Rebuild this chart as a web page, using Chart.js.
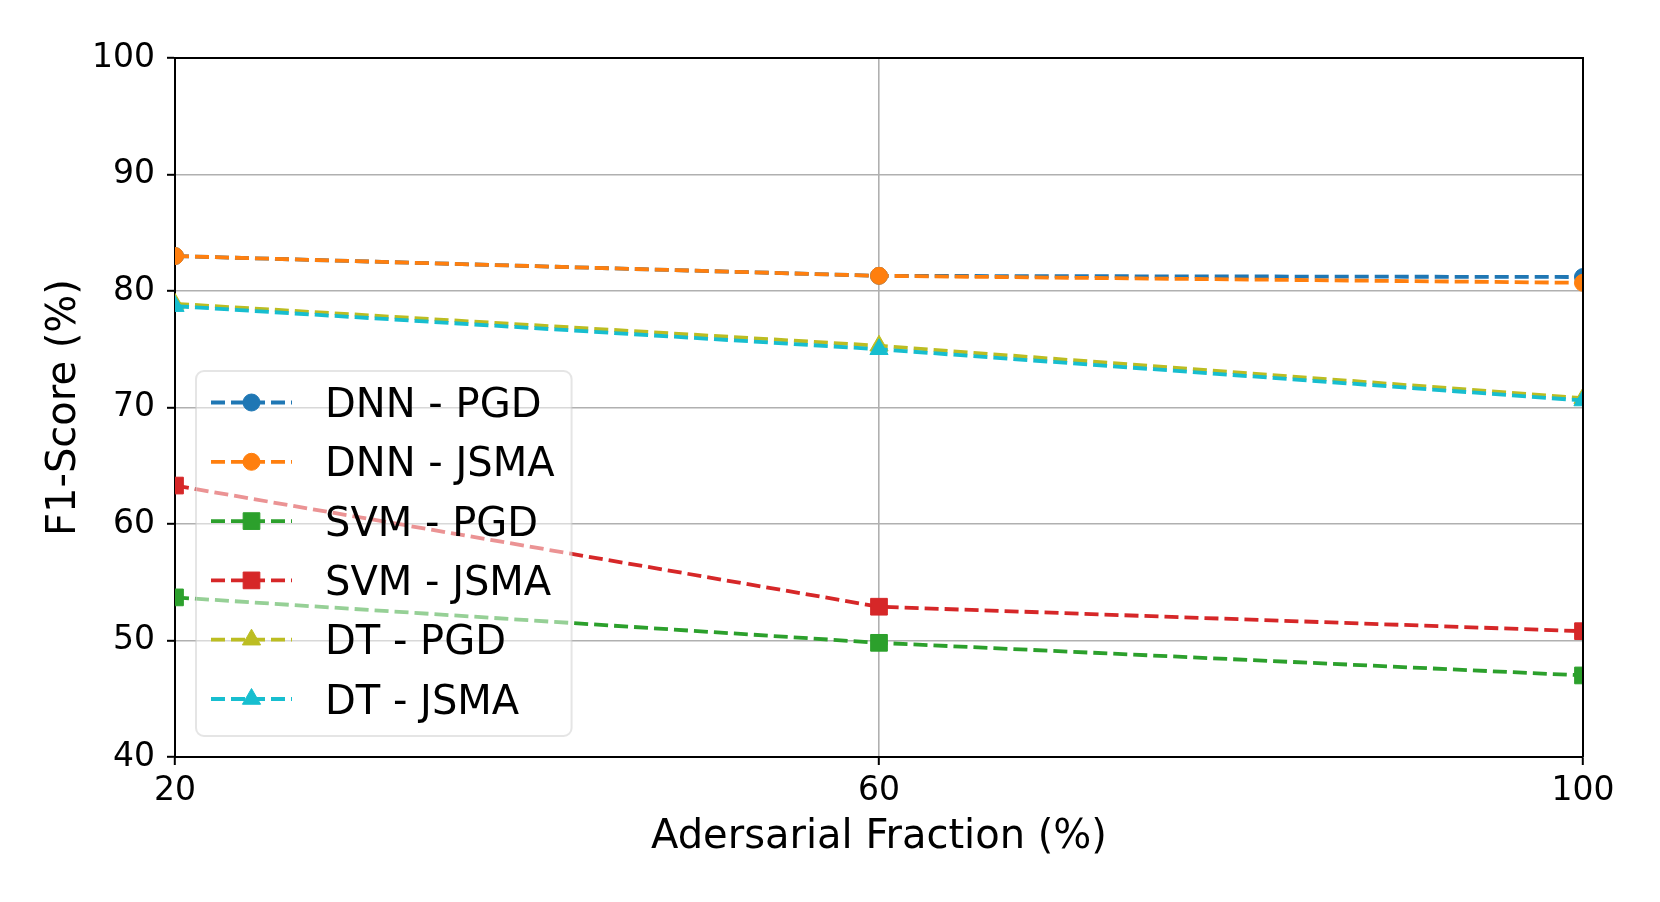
<!DOCTYPE html>
<html>
<head>
<meta charset="utf-8">
<script src="https://cdn.jsdelivr.net/npm/chart.js@4/dist/chart.umd.min.js"></script>
<style>
  html, body { margin: 0; padding: 0; background: #ffffff; }
  #c { display: block; }
</style>
</head>
<body>
<canvas id="c" width="1660" height="902"></canvas>
<script>
// ---- data ----
const fractions = [20, 60, 100];
const xTicks = [20, 60, 100];
const yTicks = [40, 50, 60, 70, 80, 90, 100];
const seriesNames = ['DNN - PGD', 'DNN - JSMA', 'SVM - PGD', 'SVM - JSMA', 'DT - PGD', 'DT - JSMA'];
const dnnPgd  = [83.0, 81.3, 81.2];
const dnnJsma = [83.0, 81.3, 80.7];
const svmPgd  = [53.7, 49.8, 47.0];
const svmJsma = [63.3, 52.9, 50.8];
const dtPgd   = [78.9, 75.3, 70.8];
const dtJsma  = [78.7, 75.0, 70.6];
const xTitle = 'Adersarial Fraction (%)';
const yTitle = 'F1-Score (%)';

// ---- styles ----
const colors = ['#1f77b4', '#ff7f0e', '#2ca02c', '#d62728', '#bcbd22', '#17becf'];
const markers = ['circle', 'circle', 'rect', 'rect', 'triangle', 'triangle'];
const markerRadius = { circle: 8.5, rect: 11.8, triangle: 10.5 };
const seriesValues = [dnnPgd, dnnJsma, svmPgd, svmJsma, dtPgd, dtJsma];
const LW = 3.8;
const DASH = [14, 6];

Chart.defaults.font.family = "'DejaVu Sans', sans-serif";
Chart.defaults.color = '#000000';

const datasets = seriesNames.map((name, i) => ({
  label: name,
  data: fractions.map((x, j) => ({ x: x, y: seriesValues[i][j] })),
  borderColor: colors[i],
  backgroundColor: colors[i],
  pointBackgroundColor: colors[i],
  pointBorderColor: colors[i],
  pointBorderWidth: 1,
  pointStyle: markers[i],
  pointRadius: markerRadius[markers[i]],
  pointHoverRadius: markerRadius[markers[i]],
  borderWidth: LW,
  borderDash: DASH,
  borderCapStyle: 'butt',
  tension: 0,
  fill: false,
  clip: 0,
  order: seriesNames.length - i
}));

function drawMarker(ctx, style, x, y, r, color) {
  ctx.save();
  ctx.fillStyle = color;
  ctx.strokeStyle = color;
  ctx.lineWidth = 1;
  ctx.setLineDash([]);
  ctx.beginPath();
  if (style === 'circle') {
    ctx.arc(x, y, r, 0, Math.PI * 2);
  } else if (style === 'rect') {
    const s = Math.SQRT1_2 * r;
    ctx.rect(x - s, y - s, 2 * s, 2 * s);
  } else {
    let a = 0;
    ctx.moveTo(x + Math.sin(a) * r, y - Math.cos(a) * r);
    a += 2 * Math.PI / 3;
    ctx.lineTo(x + Math.sin(a) * r, y - Math.cos(a) * r);
    a += 2 * Math.PI / 3;
    ctx.lineTo(x + Math.sin(a) * r, y - Math.cos(a) * r);
    ctx.closePath();
  }
  ctx.fill();
  ctx.stroke();
  ctx.restore();
}

const mplLegend = {
  id: 'mplLegend',
  afterDatasetsDraw(chart) {
    const ctx = chart.ctx;
    const area = chart.chartArea;
    const fontSize = 40;
    const rowH = 59.3;
    const ds = chart.data.datasets;
    ctx.save();
    ctx.font = fontSize + "px 'DejaVu Sans'";
    let maxW = 0;
    ds.forEach(d => { maxW = Math.max(maxW, ctx.measureText(d.label).width); });
    const boxLeft = area.left + 21;
    const boxBottom = area.bottom - 21;
    const handleX0 = boxLeft + 15;
    const handleX1 = handleX0 + 81;
    const textX = handleX1 + 33;
    const boxRight = textX + maxW + 17;
    const boxHeight = 365;
    const boxTop = boxBottom - boxHeight;
    const firstRow = boxTop + 31.5;
    // frame
    ctx.globalAlpha = 0.5;
    ctx.fillStyle = '#ffffff';
    ctx.strokeStyle = '#cccccc';
    ctx.lineWidth = 2;
    ctx.beginPath();
    ctx.roundRect(boxLeft, boxTop, boxRight - boxLeft, boxHeight, 8);
    ctx.fill();
    ctx.stroke();
    ctx.globalAlpha = 1;
    ds.forEach((d, i) => {
      const cy = firstRow + i * rowH;
      ctx.save();
      ctx.strokeStyle = d.borderColor;
      ctx.lineWidth = d.borderWidth;
      ctx.setLineDash(d.borderDash);
      ctx.lineCap = 'butt';
      ctx.beginPath();
      ctx.moveTo(handleX0, cy);
      ctx.lineTo(handleX1, cy);
      ctx.stroke();
      ctx.restore();
      drawMarker(ctx, d.pointStyle, (handleX0 + handleX1) / 2, cy, d.pointRadius, d.borderColor);
      ctx.fillStyle = '#000000';
      ctx.textAlign = 'left';
      ctx.textBaseline = 'alphabetic';
      ctx.fillText(d.label, textX, cy + 0.365 * fontSize);
    });
    ctx.restore();
  }
};

const frame = {
  id: 'frame',
  afterDraw(chart) {
    const ctx = chart.ctx;
    const a = chart.chartArea;
    ctx.save();
    ctx.strokeStyle = '#000000';
    ctx.lineWidth = 2;
    ctx.beginPath();
    ctx.moveTo(a.left, a.top);
    ctx.lineTo(a.right, a.top);
    ctx.lineTo(a.right, a.bottom);
    ctx.stroke();
    ctx.restore();
  }
};

new Chart(document.getElementById('c'), {
  type: 'line',
  data: { datasets: datasets },
  plugins: [mplLegend, frame],
  options: {
    responsive: false,
    animation: false,
    devicePixelRatio: 1,
    layout: { padding: { top: 58, right: 77, left: 0, bottom: 0 } },
    plugins: {
      legend: { display: false },
      tooltip: { enabled: false }
    },
    scales: {
      x: {
        type: 'linear',
        min: xTicks[0],
        max: xTicks[xTicks.length - 1],
        afterBuildTicks(scale) { scale.ticks = xTicks.map(v => ({ value: v })); },
        afterFit(scale) { scale.height = 145; },
        ticks: { font: { size: 33 }, color: '#000000', padding: 7, maxRotation: 0, autoSkip: false },
        grid: { color: '#b0b0b0', lineWidth: 1.6, tickLength: 8, tickColor: '#000000', tickWidth: 2, drawTicks: true },
        border: { display: true, color: '#000000', width: 2 },
        title: { display: true, text: xTitle, font: { size: 40 }, color: '#000000', padding: { top: 0, bottom: 40 } }
      },
      y: {
        type: 'linear',
        min: yTicks[0],
        max: yTicks[yTicks.length - 1],
        afterBuildTicks(scale) { scale.ticks = yTicks.map(v => ({ value: v })); },
        afterFit(scale) { scale.width = 175; },
        ticks: { font: { size: 33 }, color: '#000000', padding: 12 },
        grid: { color: '#b0b0b0', lineWidth: 1.6, tickLength: 8, tickColor: '#000000', tickWidth: 2, drawTicks: true },
        border: { display: true, color: '#000000', width: 2 },
        title: { display: true, text: yTitle, font: { size: 40 }, color: '#000000', padding: { top: 41, bottom: 0 } }
      }
    }
  }
});
</script>
</body>
</html>
